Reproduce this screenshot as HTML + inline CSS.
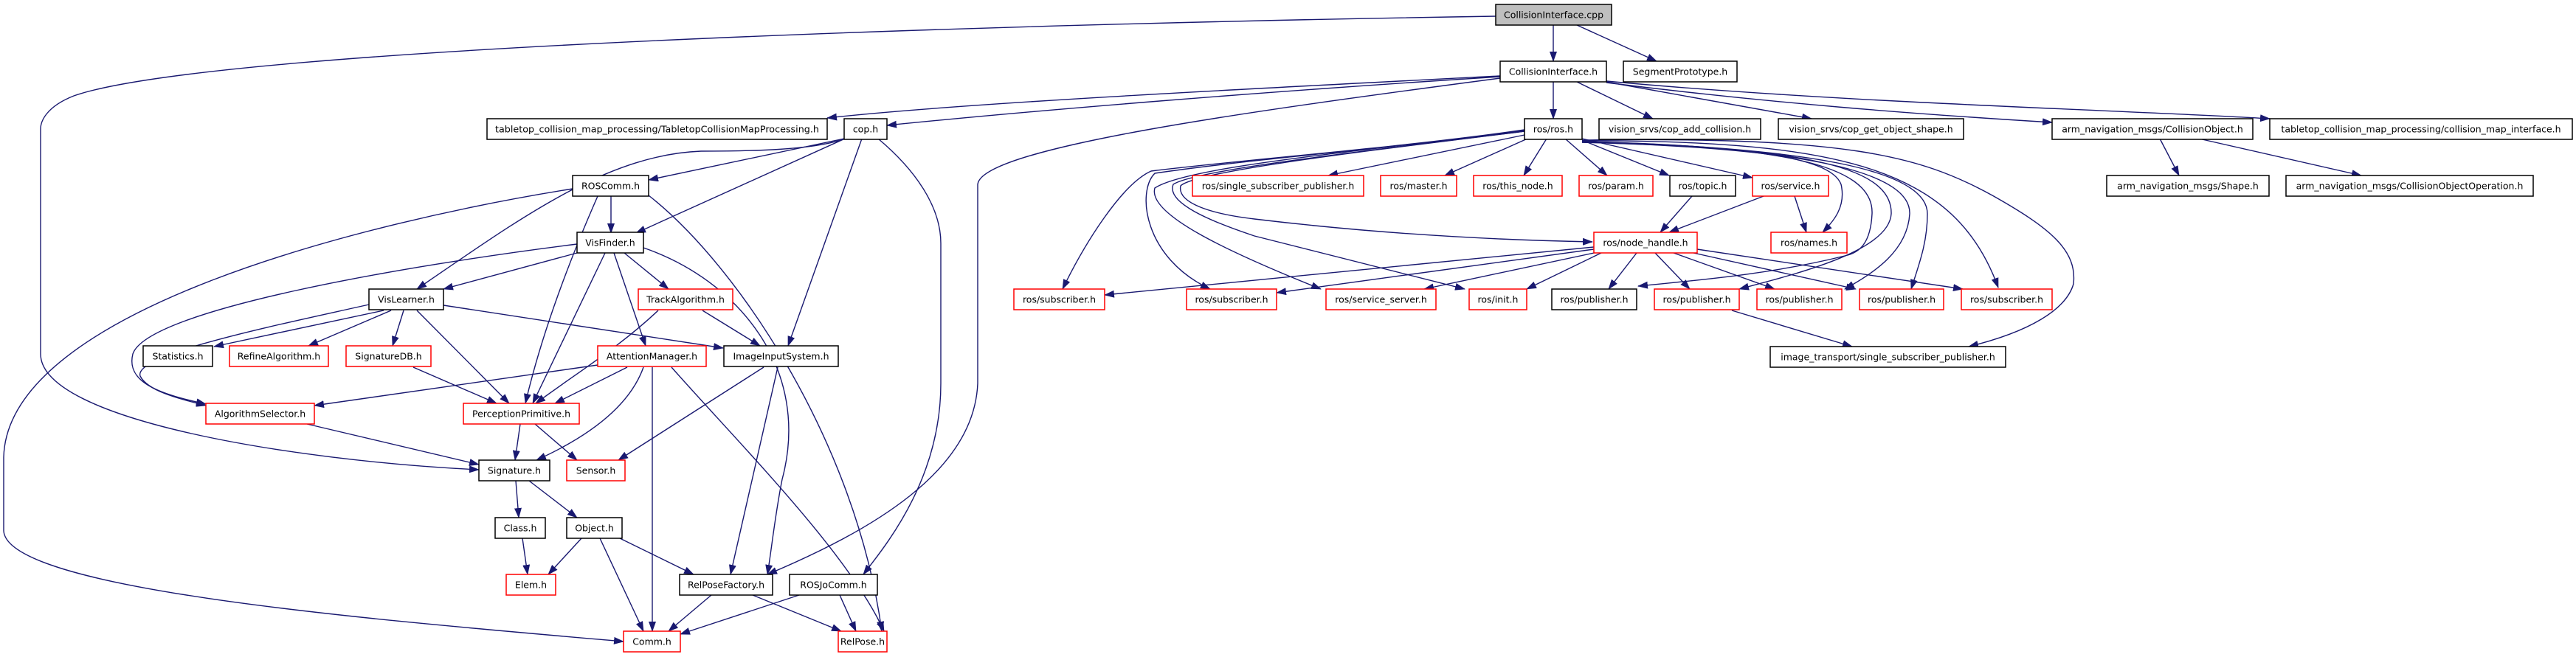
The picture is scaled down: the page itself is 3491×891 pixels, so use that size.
<!DOCTYPE html>
<html><head><meta charset="utf-8"><style>
html,body{margin:0;padding:0;background:#fff;}
svg{display:block;}
text{font-family:"DejaVu Sans","Liberation Sans",sans-serif;font-size:12.5px;fill:#000;}
.e{fill:none;stroke:#191970;stroke-width:1.4;marker-end:url(#a);}
.n{fill:#fff;stroke:#000;stroke-width:1.5;}
.r{fill:#fff;stroke:#ff0000;stroke-width:1.5;}
</style></head><body>
<svg width="3491" height="891" viewBox="0 0 3491 891" xmlns="http://www.w3.org/2000/svg">
<defs><marker id="a" markerUnits="userSpaceOnUse" markerWidth="14" markerHeight="10" refX="13" refY="5" orient="auto"><path d="M0,0 L14,5 L0,10 z" fill="#191970"/></marker></defs>
<g>
<path class="e" d="M2105,34 L2105,83"/>
<path class="e" d="M2137,34 L2245,83"/>
<path class="e" d="M2027,22 C1500,30 300,60 100,130 C62,145 55,165 55,175 L55,480 C55,570 400,625 649,637"/>
<path class="e" d="M2033,103 C1700,120 1300,140 1121,160"/>
<path class="e" d="M2033,104 C1700,125 1400,150 1202,170"/>
<path class="e" d="M2033,106 C1700,150 1330,200 1325,250 L1325,520 C1320,640 1180,720 1040,779"/>
<path class="e" d="M2105,111 L2105,161"/>
<path class="e" d="M2137,111 L2240,161"/>
<path class="e" d="M2177,111 L2455,161"/>
<path class="e" d="M2177,112 C2400,140 2600,155 2781,166"/>
<path class="e" d="M2177,110 C2500,140 2900,150 3076,161"/>
<path class="e" d="M1144,188 L879,244"/>
<path class="e" d="M1145,188 L862,316"/>
<path class="e" d="M1145,188 C1100,205 1000,205 950,205 C820,210 700,300 565,392"/>
<path class="e" d="M1168,188 L1068,469"/>
<path class="e" d="M1190,188 C1240,230 1275,280 1275,330 L1275,520 C1275,650 1200,740 1170,779"/>
<path class="e" d="M828,266 L828,316"/>
<path class="e" d="M810,266 C760,380 730,470 712,547"/>
<path class="e" d="M879,265 C1000,360 1160,600 1195,856"/>
<path class="e" d="M776,256 C500,300 10,420 5,620 L5,720 C10,800 500,840 845,870"/>
<path class="e" d="M782,343 L601,392"/>
<path class="e" d="M782,331 C550,360 200,420 180,480 C170,520 220,535 279,548"/>
<path class="e" d="M846,343 L906,392"/>
<path class="e" d="M832,343 L875,469"/>
<path class="e" d="M820,343 L722,547"/>
<path class="e" d="M872,336 C1000,380 1100,500 1060,650 C1050,700 1045,750 1040,779"/>
<path class="e" d="M500,413 C380,440 180,480 190,510 C200,530 240,540 279,550"/>
<path class="e" d="M520,421 L290,470"/>
<path class="e" d="M530,421 L418,469"/>
<path class="e" d="M547,421 L532,469"/>
<path class="e" d="M565,421 L690,547"/>
<path class="e" d="M601,414 L980,472"/>
<path class="e" d="M892,421 C840,470 790,500 726,547"/>
<path class="e" d="M952,421 L1030,469"/>
<path class="e" d="M560,498 L673,547"/>
<path class="e" d="M810,495 L426,550"/>
<path class="e" d="M850,498 L752,547"/>
<path class="e" d="M872,498 C850,560 780,600 727,624"/>
<path class="e" d="M884,498 L884,856"/>
<path class="e" d="M910,498 C1000,600 1150,750 1198,856"/>
<path class="e" d="M1035,498 L838,624"/>
<path class="e" d="M1054,498 L990,779"/>
<path class="e" d="M416,575 L649,630"/>
<path class="e" d="M705,575 L698,624"/>
<path class="e" d="M725,575 L782,624"/>
<path class="e" d="M699,652 L703,702"/>
<path class="e" d="M717,652 L782,702"/>
<path class="e" d="M708,730 L715,779"/>
<path class="e" d="M788,730 L743,779"/>
<path class="e" d="M813,730 L872,856"/>
<path class="e" d="M840,730 L940,779"/>
<path class="e" d="M964,807 L906,856"/>
<path class="e" d="M1020,807 L1140,856"/>
<path class="e" d="M1083,807 L922,860"/>
<path class="e" d="M1138,807 L1160,856"/>
<!-- ros.h edges -->
<path class="e" d="M2066,176 C1900,200 1700,215 1560,232 C1520,250 1470,330 1440,392"/>
<path class="e" d="M2066,177 C1900,200 1700,215 1565,235 C1540,260 1550,350 1640,392"/>
<path class="e" d="M2066,177 C1850,205 1610,225 1565,255 C1555,290 1660,340 1790,392"/>
<path class="e" d="M2066,178 C1850,205 1620,230 1590,250 C1580,275 1640,300 1700,320 L1985,392"/>
<path class="e" d="M2066,178 C1850,205 1620,232 1600,252 C1595,275 1640,290 1700,297 C1850,315 2000,325 2158,328"/>
<path class="e" d="M2066,183 L1800,238"/>
<path class="e" d="M2070,188 L1958,238"/>
<path class="e" d="M2096,188 L2065,238"/>
<path class="e" d="M2121,188 L2178,238"/>
<path class="e" d="M2144,190 L2262,238"/>
<path class="e" d="M2144,188 L2375,241"/>
<path class="e" d="M2144,192 C2350,198 2480,210 2495,250 C2502,280 2485,300 2470,315"/>
<path class="e" d="M2144,192 C2400,198 2540,220 2537,290 C2535,330 2520,343 2500,347 C2400,372 2300,380 2220,388"/>
<path class="e" d="M2144,193 C2420,200 2565,220 2563,290 C2560,340 2440,370 2357,392"/>
<path class="e" d="M2144,193 C2430,200 2590,230 2588,290 C2585,340 2540,370 2500,392"/>
<path class="e" d="M2144,192 C2450,200 2612,230 2612,290 C2612,330 2600,360 2590,392"/>
<path class="e" d="M2144,191 C2500,190 2650,230 2708,390"/>
<path class="e" d="M2144,190 C2500,185 2600,210 2700,265 C2780,310 2815,340 2810,385 C2800,420 2750,450 2668,470"/>
<!-- node_handle edges -->
<path class="e" d="M2160,335 L1497,400"/>
<path class="e" d="M2160,338 L1730,397"/>
<path class="e" d="M2165,342 L1930,392"/>
<path class="e" d="M2170,343 L2069,392"/>
<path class="e" d="M2218,343 L2180,392"/>
<path class="e" d="M2243,343 L2290,392"/>
<path class="e" d="M2268,343 L2405,392"/>
<path class="e" d="M2295,343 L2515,392"/>
<path class="e" d="M2300,338 L2660,392"/>
<path class="e" d="M2293,266 L2250,315"/>
<path class="e" d="M2390,266 L2262,315"/>
<path class="e" d="M2432,266 L2448,315"/>
<path class="e" d="M2347,421 L2510,470"/>
<path class="e" d="M2927,188 L2953,238"/>
<path class="e" d="M2980,188 L3200,238"/>
</g>
<g>
<rect x="2027" y="6" width="157" height="28" fill="#bfbfbf" stroke="#000" stroke-width="1.5"/><text x="2105.5" y="24.5" text-anchor="middle">CollisionInterface.cpp</text>
<rect class="n" x="2200" y="83" width="154" height="28"/><text x="2277" y="101.5" text-anchor="middle">SegmentPrototype.h</text>
<rect class="n" x="2033" y="83" width="144" height="28"/><text x="2105" y="101.5" text-anchor="middle">CollisionInterface.h</text>
<rect class="n" x="660" y="161" width="461" height="28"/><text x="890.5" y="179.5" text-anchor="middle" textLength="439" lengthAdjust="spacingAndGlyphs">tabletop_collision_map_processing/TabletopCollisionMapProcessing.h</text>
<rect class="n" x="1144" y="161" width="58" height="28"/><text x="1173" y="179.5" text-anchor="middle">cop.h</text>
<rect class="n" x="2066" y="161" width="78" height="28"/><text x="2105" y="179.5" text-anchor="middle">ros/ros.h</text>
<rect class="n" x="2167" y="161" width="219" height="28"/><text x="2276.5" y="179.5" text-anchor="middle">vision_srvs/cop_add_collision.h</text>
<rect class="n" x="2410" y="161" width="251" height="28"/><text x="2535.5" y="179.5" text-anchor="middle">vision_srvs/cop_get_object_shape.h</text>
<rect class="n" x="2781" y="161" width="272" height="28"/><text x="2917" y="179.5" text-anchor="middle">arm_navigation_msgs/CollisionObject.h</text>
<rect class="n" x="3076" y="161" width="410" height="28"/><text x="3281" y="179.5" text-anchor="middle">tabletop_collision_map_processing/collision_map_interface.h</text>
<rect class="n" x="776" y="238" width="103" height="28"/><text x="827.5" y="256.5" text-anchor="middle">ROSComm.h</text>
<rect class="r" x="1616" y="238" width="232" height="28"/><text x="1732" y="256.5" text-anchor="middle">ros/single_subscriber_publisher.h</text>
<rect class="r" x="1871" y="238" width="103" height="28"/><text x="1922.5" y="256.5" text-anchor="middle">ros/master.h</text>
<rect class="r" x="1997" y="238" width="120" height="28"/><text x="2057" y="256.5" text-anchor="middle">ros/this_node.h</text>
<rect class="r" x="2140" y="238" width="100" height="28"/><text x="2190" y="256.5" text-anchor="middle">ros/param.h</text>
<rect class="n" x="2263" y="238" width="89" height="28"/><text x="2307.5" y="256.5" text-anchor="middle">ros/topic.h</text>
<rect class="r" x="2375" y="238" width="103" height="28"/><text x="2426.5" y="256.5" text-anchor="middle">ros/service.h</text>
<rect class="n" x="2855" y="238" width="220" height="28"/><text x="2965" y="256.5" text-anchor="middle">arm_navigation_msgs/Shape.h</text>
<rect class="n" x="3098" y="238" width="335" height="28"/><text x="3265.5" y="256.5" text-anchor="middle">arm_navigation_msgs/CollisionObjectOperation.h</text>
<rect class="n" x="782" y="315" width="90" height="28"/><text x="827" y="333.5" text-anchor="middle">VisFinder.h</text>
<rect class="r" x="2160" y="315" width="140" height="28"/><text x="2230" y="333.5" text-anchor="middle">ros/node_handle.h</text>
<rect class="r" x="2400" y="315" width="103" height="28"/><text x="2451.5" y="333.5" text-anchor="middle">ros/names.h</text>
<rect class="n" x="500" y="392" width="101" height="28"/><text x="550.5" y="410.5" text-anchor="middle">VisLearner.h</text>
<rect class="r" x="865" y="392" width="128" height="28"/><text x="929" y="410.5" text-anchor="middle">TrackAlgorithm.h</text>
<rect class="r" x="1374" y="392" width="123" height="28"/><text x="1435.5" y="410.5" text-anchor="middle">ros/subscriber.h</text>
<rect class="r" x="1608" y="392" width="122" height="28"/><text x="1669" y="410.5" text-anchor="middle">ros/subscriber.h</text>
<rect class="r" x="1797" y="392" width="149" height="28"/><text x="1871.5" y="410.5" text-anchor="middle">ros/service_server.h</text>
<rect class="r" x="1991" y="392" width="78" height="28"/><text x="2030" y="410.5" text-anchor="middle">ros/init.h</text>
<rect class="n" x="2103" y="392" width="115" height="28"/><text x="2160.5" y="410.5" text-anchor="middle">ros/publisher.h</text>
<rect class="r" x="2242" y="392" width="115" height="28"/><text x="2299.5" y="410.5" text-anchor="middle">ros/publisher.h</text>
<rect class="r" x="2381" y="392" width="115" height="28"/><text x="2438.5" y="410.5" text-anchor="middle">ros/publisher.h</text>
<rect class="r" x="2520" y="392" width="114" height="28"/><text x="2577" y="410.5" text-anchor="middle">ros/publisher.h</text>
<rect class="r" x="2658" y="392" width="123" height="28"/><text x="2719.5" y="410.5" text-anchor="middle">ros/subscriber.h</text>
<rect class="n" x="2399" y="470" width="319" height="28"/><text x="2558.5" y="488.5" text-anchor="middle">image_transport/single_subscriber_publisher.h</text>
<rect class="n" x="194" y="469" width="94" height="28"/><text x="241" y="487.5" text-anchor="middle">Statistics.h</text>
<rect class="r" x="311" y="469" width="134" height="28"/><text x="378" y="487.5" text-anchor="middle">RefineAlgorithm.h</text>
<rect class="r" x="469" y="469" width="115" height="28"/><text x="526.5" y="487.5" text-anchor="middle">SignatureDB.h</text>
<rect class="r" x="810" y="469" width="147" height="28"/><text x="883.5" y="487.5" text-anchor="middle">AttentionManager.h</text>
<rect class="n" x="981" y="469" width="155" height="28"/><text x="1058.5" y="487.5" text-anchor="middle">ImageInputSystem.h</text>
<rect class="r" x="279" y="547" width="147" height="28"/><text x="352.5" y="565.5" text-anchor="middle">AlgorithmSelector.h</text>
<rect class="r" x="628" y="547" width="157" height="28"/><text x="706.5" y="565.5" text-anchor="middle">PerceptionPrimitive.h</text>
<rect class="n" x="649" y="624" width="96" height="28"/><text x="697" y="642.5" text-anchor="middle">Signature.h</text>
<rect class="r" x="768" y="624" width="79" height="28"/><text x="807.5" y="642.5" text-anchor="middle">Sensor.h</text>
<rect class="n" x="671" y="702" width="68" height="28"/><text x="705" y="720.5" text-anchor="middle">Class.h</text>
<rect class="n" x="768" y="702" width="75" height="28"/><text x="805.5" y="720.5" text-anchor="middle">Object.h</text>
<rect class="r" x="686" y="779" width="67" height="28"/><text x="719.5" y="797.5" text-anchor="middle">Elem.h</text>
<rect class="n" x="921" y="779" width="126" height="28"/><text x="984" y="797.5" text-anchor="middle">RelPoseFactory.h</text>
<rect class="n" x="1070" y="779" width="119" height="28"/><text x="1129.5" y="797.5" text-anchor="middle">ROSJoComm.h</text>
<rect class="r" x="845" y="856" width="77" height="28"/><text x="883.5" y="874.5" text-anchor="middle">Comm.h</text>
<rect class="r" x="1136" y="856" width="66" height="28"/><text x="1169" y="874.5" text-anchor="middle">RelPose.h</text>
</g>
</svg>
</body></html>
